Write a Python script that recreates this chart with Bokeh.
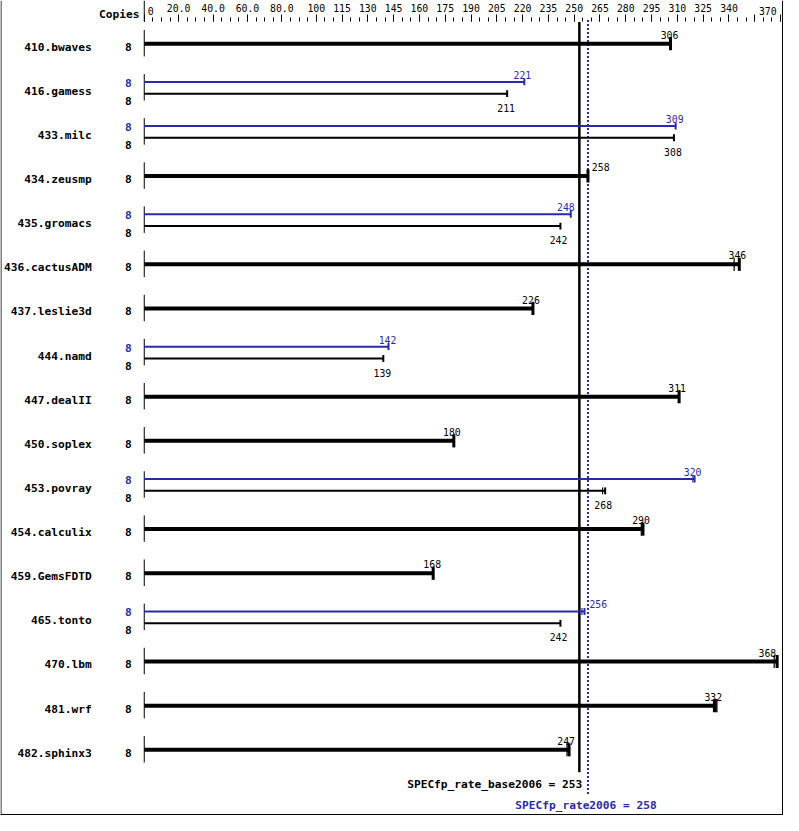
from bokeh.plotting import figure
from bokeh.models import Range1d, LinearAxis, FixedTicker, Span, ColumnDataSource
from bokeh.core.properties import value
from bokeh.embed import file_html
from bokeh.resources import INLINE

# ---------------- data ----------------
benchmarks = ["410.bwaves", "416.gamess", "433.milc", "434.zeusmp", "435.gromacs",
              "436.cactusADM", "437.leslie3d", "444.namd", "447.dealII", "450.soplex",
              "453.povray", "454.calculix", "459.GemsFDTD", "465.tonto", "470.lbm",
              "481.wrf", "482.sphinx3"]
copies_base = [8, 8, 8, 8, 8, 8, 8, 8, 8, 8, 8, 8, 8, 8, 8, 8, 8]
copies_peak = [None, 8, 8, None, 8, None, None, 8, None, None, 8, None, None, 8, None, None, None]
base_ratio = [306, 211, 308, 258, 242, 346, 226, 139, 311, 180, 268, 290, 168, 242, 368, 332, 247]
peak_ratio = [None, 221, 309, None, 248, None, None, 142, None, None, 320, None, None, 256, None, None, None]
base_other_runs = [[], [], [], [], [], [343], [], [], [], [], [266.5], [289], [], [], [366.3], [331, 333], [245.8]]
peak_other_runs = [[], [], [], [], [], [], [], [], [], [], [319], [], [], [254.5], [], [], []]
spec_base = 253
spec_peak = 258
tick_values = [0, 20, 40, 60, 80, 100, 115, 130, 145, 160, 175, 190, 205, 220, 235, 250,
               265, 280, 295, 310, 325, 340, 355, 370]
tick_labels = ["0", "20.0", "40.0", "60.0", "80.0", "100", "115", "130", "145", "160", "175",
               "190", "205", "220", "235", "250", "265", "280", "295", "310", "325", "340", "", "370"]
minor_values = list(range(0, 375, 5))

# ---------------- layout / style ----------------
BLUE = "#2a2aa9"
REF_W, REF_H = 799, 831          # design space (pixels of the original picture)
W, H = 783, 815                  # figure size fitting the window
KX, KY = W / REF_W, H / REF_H
ORIGIN = 146.7                   # design x of value 0
UNIT = 1.7549                    # design px per unit
x_start = -ORIGIN / UNIT
x_end = (REF_W - ORIGIN) / UNIT
AXIS_Y = 21.5
ROW0, STEP = 44, 45
MONO = "DejaVu Sans Mono"
NAME_FS = "%.1fpx" % (11.4 * KX)
NUM_FS = "%.1fpx" % (10 * KX)

# edge tick labels are drawn aligned inward (first left-aligned, last right-aligned)
edge_idx = [0, len(tick_values) - 1]
edge_align = ["left", "right"]
edge_dx = [3.5 * KX, -4 * KX]

# label nudges (design px), style only
base_dx = [-1, -1, -1, 13, -2, -2, -2, -1, -2, -2, -2, -2, -1, -2, -10, -2, -3]
peak_dx = [0, -2, -1, 0, -5, 0, 0, -1, 0, 0, -2, 0, 0, 14, 0, 0, 0]

p = figure(width=W, height=H, output_backend="svg", toolbar_location=None,
           x_range=Range1d(x_start, x_end), y_range=Range1d(REF_H, 0),
           x_axis_type=None, y_axis_type=None,
           min_border_left=0, min_border_right=0, min_border_bottom=0, min_border_top=0)
p.outline_line_color = None
p.background_fill_color = "white"
p.border_fill_color = "white"

overrides = {v: s for v, s in zip(tick_values, tick_labels)}
for k in edge_idx:
    overrides[tick_values[k]] = ""
ax = LinearAxis(ticker=FixedTicker(ticks=tick_values, minor_ticks=minor_values),
                fixed_location=AXIS_Y)
ax.major_label_overrides = overrides
ax.axis_line_color = None
ax.major_tick_out = 7
ax.major_tick_in = 0
ax.minor_tick_out = 4
ax.minor_tick_in = 0
ax.major_tick_line_color = "black"
ax.minor_tick_line_color = "black"
ax.major_label_standoff = 3
ax.major_label_text_font = MONO
ax.major_label_text_font_size = NUM_FS
ax.major_label_text_color = "black"
p.add_layout(ax, "above")

for k, al, dx in zip(edge_idx, edge_align, edge_dx):
    p.text(x=[tick_values[k]], y=[10.5], text=[tick_labels[k]], x_offset=dx,
           text_font=value(MONO), text_font_size=NUM_FS, text_align=al,
           text_baseline="alphabetic", text_color="black")

rows_y = [ROW0 + STEP * i for i in range(len(benchmarks))]

thick = dict(y=[], v=[], dx=[], lab=[], ly=[])
thin_b = dict(y=[], v=[], dx=[], lab=[], ly=[])
thin_p = dict(y=[], v=[], dx=[], lab=[], ly=[])
extra_thick = dict(x=[], y0=[], y1=[])
extra_thin_b = dict(x=[], y0=[], y1=[])
extra_thin_p = dict(x=[], y0=[], y1=[])
copies_k = dict(y=[], t=[])
copies_b = dict(y=[], t=[])
for i, c in enumerate(rows_y):
    if peak_ratio[i] is None:
        thick["y"].append(c); thick["v"].append(base_ratio[i]); thick["ly"].append(c - 9)
        thick["dx"].append(base_dx[i] * KX); thick["lab"].append(str(base_ratio[i]))
        for r in base_other_runs[i]:
            extra_thick["x"].append(r); extra_thick["y0"].append(c - 6.7); extra_thick["y1"].append(c + 6.7)
        copies_k["y"].append(c + 3); copies_k["t"].append(str(copies_base[i]))
    else:
        yb, yp = c + 6, c - 6
        thin_b["y"].append(yb); thin_b["v"].append(base_ratio[i]); thin_b["ly"].append(c + 20.5)
        thin_b["dx"].append(base_dx[i] * KX); thin_b["lab"].append(str(base_ratio[i]))
        thin_p["y"].append(yp); thin_p["v"].append(peak_ratio[i]); thin_p["ly"].append(c - 13.3)
        thin_p["dx"].append(peak_dx[i] * KX); thin_p["lab"].append(str(peak_ratio[i]))
        for r in base_other_runs[i]:
            extra_thin_b["x"].append(r); extra_thin_b["y0"].append(yb - 3.5); extra_thin_b["y1"].append(yb + 3.5)
        for r in peak_other_runs[i]:
            extra_thin_p["x"].append(r); extra_thin_p["y0"].append(yp - 3.5); extra_thin_p["y1"].append(yp + 3.5)
        copies_k["y"].append(c + 13.3); copies_k["t"].append(str(copies_base[i]))
        copies_b["y"].append(c - 5); copies_b["t"].append(str(copies_peak[i]))

# left brackets and header separator
p.segment(x0=[0] * len(rows_y), y0=[c - 14 for c in rows_y], x1=[0] * len(rows_y),
          y1=[c + 13 for c in rows_y], line_color="black", line_width=1)
p.segment(x0=[0], y0=[0], x1=[0], y1=[AXIS_Y], line_color="black", line_width=1)

# reference lines
p.segment(x0=[spec_base], y0=[22], x1=[spec_base], y1=[787], line_color="black", line_width=2.5)
p.segment(x0=[spec_peak], y0=[20], x1=[spec_peak], y1=[809], line_color=BLUE, line_width=2,
          line_dash="2 2")


def bars(src, color, width, cap_half, cap_w, extra, label_color):
    s = ColumnDataSource(src)
    p.segment(x0=0, y0="y", x1="v", y1="y", source=s, line_color=color, line_width=width)
    cap = ColumnDataSource(dict(x=src["v"], y0=[y - cap_half for y in src["y"]],
                                y1=[y + cap_half for y in src["y"]]))
    p.segment(x0="x", y0="y0", x1="x", y1="y1", source=cap, line_color=color, line_width=cap_w)
    p.segment(x0="x", y0="y0", x1="x", y1="y1", source=ColumnDataSource(extra),
              line_color=color, line_width=1.2)
    p.text(x="v", y="ly", text="lab", source=s, x_offset="dx",
           text_font=value(MONO), text_font_size=NUM_FS, text_align="center",
           text_baseline="alphabetic", text_color=label_color)


bars(thick, "black", 4, 6.7, 3, extra_thick, "black")
bars(thin_b, "black", 2, 3.5, 2, extra_thin_b, "black")
bars(thin_p, BLUE, 2, 3.5, 2, extra_thin_p, BLUE)

# names and copies
p.text(x=[0] * len(rows_y), y=[c + 3.5 for c in rows_y], text=benchmarks, x_offset=(93 - ORIGIN) * KX,
       text_font=value(MONO), text_font_size=NAME_FS, text_font_style="bold",
       text_align="right", text_baseline="alphabetic", text_color="black")
p.text(x=[0] * len(copies_k["y"]), y=copies_k["y"], text=copies_k["t"], x_offset=(130.5 - ORIGIN) * KX,
       text_font=value(MONO), text_font_size=NAME_FS, text_font_style="bold",
       text_align="center", text_baseline="alphabetic", text_color="black")
p.text(x=[0] * len(copies_b["y"]), y=copies_b["y"], text=copies_b["t"], x_offset=(130.5 - ORIGIN) * KX,
       text_font=value(MONO), text_font_size=NAME_FS, text_font_style="bold",
       text_align="center", text_baseline="alphabetic", text_color=BLUE)
p.text(x=[0], y=[14.3], text=["Copies"], x_offset=(141.7 - ORIGIN) * KX,
       text_font=value(MONO), text_font_size=NAME_FS, text_font_style="bold",
       text_align="right", text_baseline="alphabetic", text_color="black")

# summary labels
p.text(x=[spec_base], y=[799], text=["SPECfp_rate_base2006 = %d" % spec_base], x_offset=3 * KX,
       text_font=value(MONO), text_font_size=NAME_FS, text_font_style="bold",
       text_align="right", text_baseline="alphabetic", text_color="black")
p.text(x=[spec_peak], y=[820.5], text=["SPECfp_rate2006 = %d" % spec_peak], x_offset=-2 * KX,
       text_font=value(MONO), text_font_size=NAME_FS, text_font_style="bold",
       text_align="center", text_baseline="alphabetic", text_color=BLUE)

# border (left, right, bottom)
p.add_layout(Span(location=(0.5 - ORIGIN) / UNIT, dimension="height", line_color="black", line_width=1))
p.add_layout(Span(location=(REF_W - 1.0 - ORIGIN) / UNIT, dimension="height", line_color="black", line_width=1))
p.add_layout(Span(location=REF_H - 1.0, dimension="width", line_color="black", line_width=1))

open("out.html", "w").write(file_html(p, INLINE))
